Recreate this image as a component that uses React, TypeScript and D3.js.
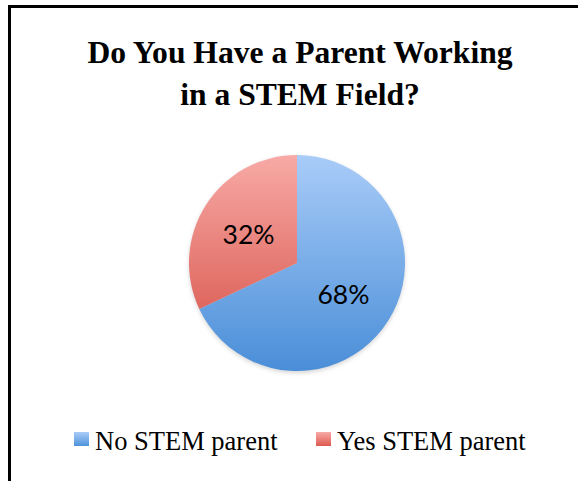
import React from "react";
import * as d3 from "d3";

const categories = ["No STEM parent", "Yes STEM parent"];
const values = [68, 32];
const labels = ["68%", "32%"];
const titleLines = ["Do You Have a Parent Working", "in a STEM Field?"];

const W = 578;
const H = 481;

export default function App() {
  const cx = 297;
  const cy = 263;
  const r = 108;
  const pie = d3.pie<number>().sort(null).value((d) => d)(values);
  const arc = d3.arc<d3.PieArcDatum<number>>().innerRadius(0).outerRadius(r);
  const gradIds = ["gBlue", "gRed"];
  const labelArc = d3.arc<d3.PieArcDatum<number>>().innerRadius(r * 0.52).outerRadius(r * 0.52);

  const legendX = [74, 316];
  return (
    <svg
      width={W}
      height={H}
      style={{ position: "absolute", left: 0, top: 0, background: "#fff" }}
    >
      <defs>
        <linearGradient id="gBlue" gradientUnits="userSpaceOnUse" x1={0} y1={-r} x2={0} y2={r}>
          <stop offset="0" stopColor="#a9ccf8" />
          <stop offset="1" stopColor="#4a8ed8" />
        </linearGradient>
        <linearGradient id="gRed" gradientUnits="userSpaceOnUse" x1={0} y1={-r} x2={0} y2={r}>
          <stop offset="0" stopColor="#f8aaa6" />
          <stop offset="1" stopColor="#d44c42" />
        </linearGradient>
        <linearGradient id="lBlue" x1="0" y1="0" x2="0" y2="1">
          <stop offset="0" stopColor="#a9ccf8" />
          <stop offset="1" stopColor="#4f92db" />
        </linearGradient>
        <linearGradient id="lRed" x1="0" y1="0" x2="0" y2="1">
          <stop offset="0" stopColor="#f8aaa6" />
          <stop offset="1" stopColor="#dc5a50" />
        </linearGradient>
        <filter id="sh" x="-20%" y="-20%" width="140%" height="140%">
          <feGaussianBlur stdDeviation="2" />
        </filter>
      </defs>
      <rect width={W} height={H} fill="#fff" />
      {/* frame */}
      <line x1={9.5} y1={6.5} x2={W} y2={6.5} stroke="#000" strokeWidth={3} />
      <line x1={9.5} y1={5} x2={9.5} y2={H} stroke="#000" strokeWidth={3} />
      {/* title */}
      <text
        x={300}
        textAnchor="middle"
        fontFamily="'Liberation Serif', serif"
        fontWeight="bold"
        fontSize={31.6}
        fill="#000"
      >
        {titleLines.map((t, i) => (
          <tspan key={i} x={300} y={63 + i * 42}>
            {t}
          </tspan>
        ))}
      </text>
      {/* pie */}
      <circle cx={cx} cy={cy + 2} r={r} fill="#888" opacity={0.35} filter="url(#sh)" />
      <g transform={`translate(${cx},${cy})`}>
        {pie.map((p, i) => (
          <path key={i} d={arc(p) || ""} fill={`url(#${gradIds[i]})`} />
        ))}
      </g>
      <g>
        {pie.map((p, i) => {
          const [lx, ly] = labelArc.centroid(p);
          return (
            <text
              key={i}
              x={cx + lx - 1}
              y={cy + ly + 1}
              textAnchor="middle"
              dominantBaseline="central"
              fontFamily="Lato, sans-serif"
              fontSize={26.5}
              fill="#000"
            >
              {labels[i]}
            </text>
          );
        })}
      </g>
      {/* legend */}
      {categories.map((c, i) => (
        <g key={c}>
          <rect x={legendX[i]} y={432} width={15} height={14} fill={`url(#${i === 0 ? "lBlue" : "lRed"})`} />
          <text
            x={legendX[i] + 21}
            y={450}
            fontFamily="'Liberation Serif', serif"
            fontSize={26.5}
            fill="#000"
          >
            {c}
          </text>
        </g>
      ))}
    </svg>
  );
}
